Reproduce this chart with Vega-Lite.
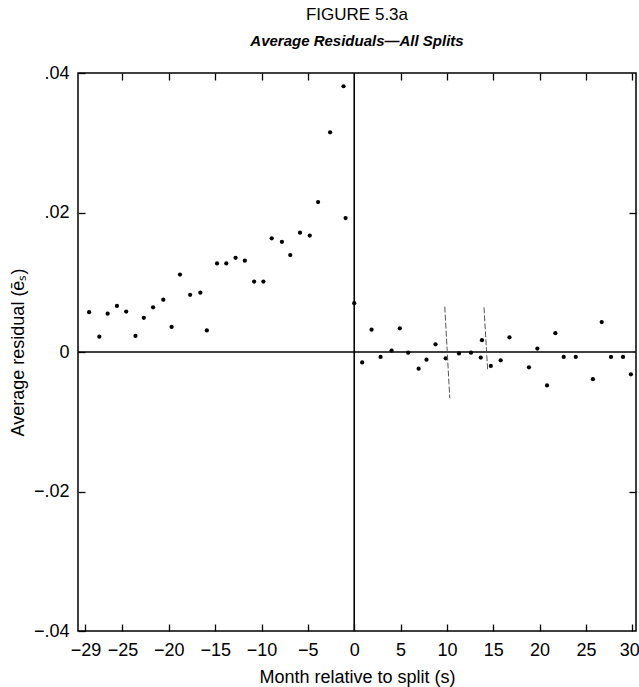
{
  "$schema": "https://vega.github.io/schema/vega-lite/v6.json",
  "width": 558,
  "height": 558,
  "autosize": {"type": "none"},
  "padding": {"left": 78, "top": 73, "right": 3, "bottom": 56},
  "background": "white",
  "config": {
    "view": {"stroke": "black", "strokeWidth": 1.5},
    "font": "Liberation Sans",
    "axis": {"grid": false, "domain": false, "tickColor": "black", "labelColor": "black", "titleColor": "black", "labelFont": "Liberation Sans", "titleFont": "Liberation Sans", "titleFontWeight": "normal", "tickWidth": 1.3}
  },
  "title": {
    "text": "FIGURE 5.3a",
    "subtitle": "Average Residuals\u2014All Splits",
    "anchor": "middle",
    "frame": "group",
    "font": "Liberation Sans",
    "fontSize": 17,
    "fontWeight": "normal",
    "color": "black",
    "subtitleFont": "Liberation Sans",
    "subtitleFontSize": 15,
    "subtitleFontStyle": "italic",
    "subtitleFontWeight": "bold",
    "subtitleColor": "black",
    "subtitlePadding": 10,
    "offset": 14
  },
  "datasets": {
    "pts": [
      {"s": -28.6, "r": 0.0057}, {"s": -27.5, "r": 0.0022}, {"s": -26.6, "r": 0.0055}, {"s": -25.6, "r": 0.0066},
      {"s": -24.6, "r": 0.0058}, {"s": -23.6, "r": 0.0023}, {"s": -22.7, "r": 0.0049}, {"s": -21.7, "r": 0.0064},
      {"s": -20.6, "r": 0.0075}, {"s": -19.7, "r": 0.0036}, {"s": -18.8, "r": 0.0111}, {"s": -17.7, "r": 0.0082},
      {"s": -16.6, "r": 0.0085}, {"s": -15.9, "r": 0.0031}, {"s": -14.8, "r": 0.0127}, {"s": -13.8, "r": 0.0127},
      {"s": -12.8, "r": 0.0135}, {"s": -11.8, "r": 0.0131}, {"s": -10.8, "r": 0.0101}, {"s": -9.8, "r": 0.0101},
      {"s": -8.9, "r": 0.0163}, {"s": -7.8, "r": 0.0158}, {"s": -6.9, "r": 0.0139}, {"s": -5.85, "r": 0.0171},
      {"s": -4.8, "r": 0.0167}, {"s": -3.9, "r": 0.0215}, {"s": -2.6, "r": 0.0315}, {"s": -1.15, "r": 0.0381},
      {"s": -0.93, "r": 0.0192}, {"s": 0.0, "r": 0.0070},
      {"s": 0.86, "r": -0.0015}, {"s": 1.87, "r": 0.0032}, {"s": 2.84, "r": -0.0007}, {"s": 4.03, "r": 0.0002},
      {"s": 4.92, "r": 0.0034}, {"s": 5.82, "r": -0.0001}, {"s": 6.95, "r": -0.0024}, {"s": 7.8, "r": -0.0011},
      {"s": 8.77, "r": 0.0011}, {"s": 9.87, "r": -0.0009}, {"s": 11.3, "r": -0.0002}, {"s": 12.6, "r": -0.0001},
      {"s": 13.65, "r": -0.0008}, {"s": 13.78, "r": 0.0017}, {"s": 14.74, "r": -0.0020}, {"s": 15.8, "r": -0.0012},
      {"s": 16.75, "r": 0.0021}, {"s": 18.85, "r": -0.0022}, {"s": 19.76, "r": 0.0005}, {"s": 20.8, "r": -0.0048},
      {"s": 21.7, "r": 0.0027}, {"s": 22.6, "r": -0.0007}, {"s": 23.9, "r": -0.0007}, {"s": 25.75, "r": -0.0039},
      {"s": 26.7, "r": 0.0043}, {"s": 27.7, "r": -0.0007}, {"s": 29.0, "r": -0.0007}, {"s": 29.85, "r": -0.0032}
    ],
    "breaks": [
      {"s": 9.77, "r": 0.0065, "s2": 10.31, "r2": -0.0066},
      {"s": 14.0, "r": 0.0064, "s2": 14.4, "r2": -0.0027}
    ],
    "zeroY": [{"r": 0}],
    "zeroX": [{"s": 0}]
  },
  "resolve": {"axis": {"x": "independent", "y": "independent"}},
  "layer": [
    {
      "data": {"name": "pts"},
      "mark": {"type": "circle", "color": "black", "opacity": 1, "size": 18},
      "encoding": {
        "x": {
          "field": "s", "type": "quantitative",
          "scale": {"domain": [-29.8, 30.4], "nice": false, "zero": false},
          "axis": {
            "orient": "bottom",
            "values": [-29, -25, -20, -15, -10, -5, 0, 5, 10, 15, 20, 25, 30],
            "labelExpr": "datum.value < 0 ? '\u2212' + abs(datum.value) : '' + datum.value",
            "labelOffset": {"condition": {"test": "datum.value == 30", "value": -3}, "value": 0},
            "labelBound": false,
            "tickSize": -7, "labelPadding": 17, "labelFontSize": 18,
            "title": "Month relative to split (s)", "titleFontSize": 18, "titlePadding": 9
          }
        },
        "y": {
          "field": "r", "type": "quantitative",
          "scale": {"domain": [-0.04, 0.04], "nice": false, "zero": false},
          "axis": {
            "orient": "left",
            "values": [-0.04, -0.02, 0, 0.02, 0.04],
            "labelExpr": "datum.value == 0 ? '0' : (datum.value < 0 ? '\u2212.' : '.') + format(abs(datum.value) * 100, '02d')",
            "tickSize": -7, "labelPadding": 16, "labelFontSize": 18,
            "title": "Average residual (\u0113\u209b)", "titleFontSize": 18, "titlePadding": 6
          }
        }
      }
    },
    {
      "data": {"name": "pts"},
      "mark": {"type": "circle", "opacity": 0},
      "encoding": {
        "x": {
          "field": "s", "type": "quantitative",
          "axis": {"orient": "top", "values": [-25, -20, -15, -10, -5, 5, 10, 15, 20, 25, 30], "labels": false, "tickSize": -7, "title": null}
        },
        "y": {
          "field": "r", "type": "quantitative",
          "axis": {"orient": "right", "values": [-0.02, 0.02], "labels": false, "tickSize": -7, "title": null}
        }
      }
    },
    {
      "data": {"name": "zeroY"},
      "mark": {"type": "rule", "color": "black", "strokeWidth": 1.4},
      "encoding": {"y": {"field": "r", "type": "quantitative", "axis": null}}
    },
    {
      "data": {"name": "zeroX"},
      "mark": {"type": "rule", "color": "black", "strokeWidth": 1.6},
      "encoding": {"x": {"field": "s", "type": "quantitative", "axis": null}}
    },
    {
      "data": {"name": "breaks"},
      "mark": {"type": "rule", "color": "#555555", "strokeWidth": 1, "strokeDash": [6, 2]},
      "encoding": {
        "x": {"field": "s", "type": "quantitative", "axis": null},
        "x2": {"field": "s2"},
        "y": {"field": "r", "type": "quantitative", "axis": null},
        "y2": {"field": "r2"}
      }
    }
  ]
}
